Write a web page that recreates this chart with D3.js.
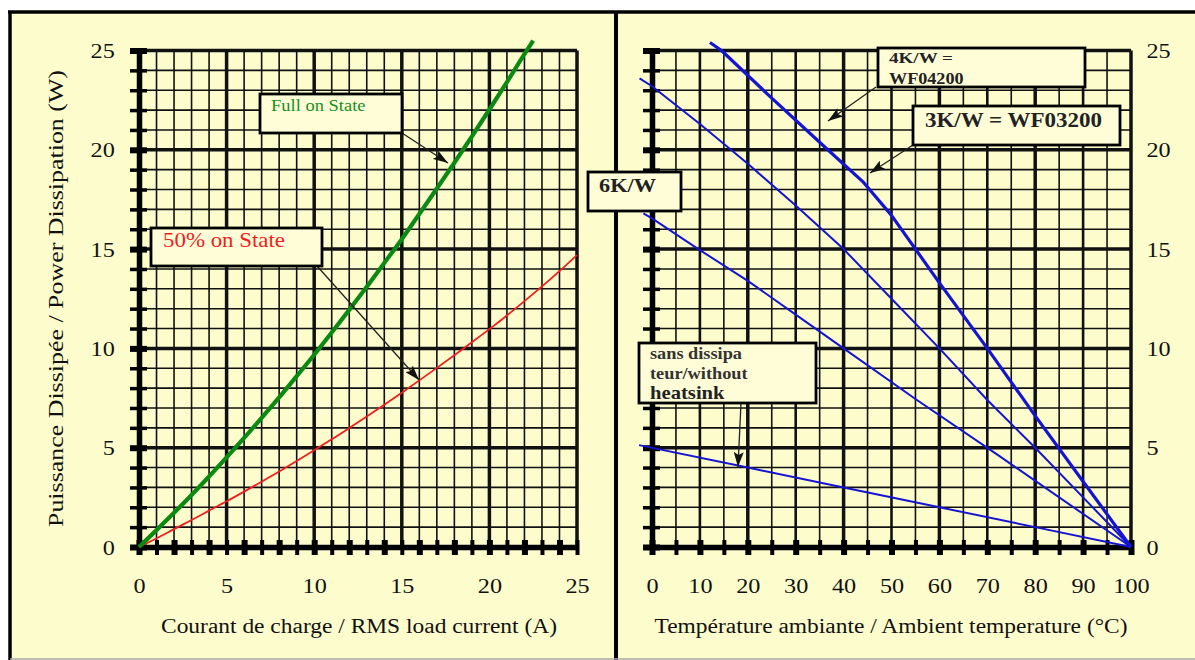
<!DOCTYPE html>
<html>
<head>
<meta charset="utf-8">
<script src="https://cdn.jsdelivr.net/npm/d3@7"></script>
<style>
body { margin: 0; background: #fff; }
svg { display: block; }
</style>
</head>
<body>
<script>
// ---- left chart : power vs RMS current ----
var fullOnI = [0, 1, 2, 3, 4, 5, 6, 7, 8, 9, 10, 11, 12, 13, 14, 15, 16, 17, 18, 19, 20, 21, 22, 22.5];
var fullOnW = [0, 0.85, 1.72, 2.62, 3.55, 4.51, 5.49, 6.5, 7.53, 8.6, 9.68, 10.8, 11.94, 13.1, 14.3, 15.5, 16.77, 18.05, 19.35, 20.67, 22.03, 23.41, 24.82, 25.5];
var halfOnI = [0, 1, 2, 3, 4, 5, 6, 7, 8, 9, 10, 11, 12, 13, 14, 15, 16, 17, 18, 19, 20, 21, 22, 23, 24, 25];
var halfOnW = [0, 0.44, 0.9, 1.36, 1.83, 2.3, 2.79, 3.29, 3.8, 4.33, 4.87, 5.42, 5.99, 6.57, 7.16, 7.77, 8.39, 9.02, 9.66, 10.31, 10.97, 11.66, 12.38, 13.12, 13.89, 14.7];

// ---- right chart : power vs ambient temperature ----
var t3 = [12.1, 14.5, 25, 36.7, 44, 50, 60, 70, 80, 90, 100];
var w3 = [25.4, 25, 22.6, 20, 18.4, 16.7, 13.3, 10.0, 6.6, 3.3, 0];
var t4 = [-2.6, 0, 10, 20, 30, 40, 50, 60, 70, 80, 90, 100];
var w4 = [23.6, 23.2, 21.3, 19.3, 17.2, 15.0, 12.5, 10.0, 7.4, 5.0, 2.5, 0];
var t6 = [-1.8, 0, 10, 20, 30, 40, 55, 72.7, 100];
var w6 = [16.8, 16.55, 14.95, 13.4, 11.7, 10.0, 7.45, 4.55, 0];
var tNone = [-2.7, 20, 40, 60, 80, 100];
var wNone = [5.13, 4.0, 3.0, 2.0, 1.0, 0];

// ticks
var powerTicks = [0, 5, 10, 15, 20, 25];
var currentTicks = [0, 5, 10, 15, 20, 25];
var tempTicks = [0, 10, 20, 30, 40, 50, 60, 70, 80, 90, 100];

var w = 1195, h = 660;
var bg = "#fdfccd";
var serif = "'Liberation Serif', 'Times New Roman', serif";

var svg = d3.select("body").append("svg")
    .attr("width", w)
    .attr("height", h);

// frame
svg.append("rect").attr("x", 10).attr("y", 12).attr("width", w - 10).attr("height", h - 12).attr("fill", bg);
svg.append("line").attr("x1", 8).attr("x2", w).attr("y1", 12).attr("y2", 12).attr("stroke", "#000").attr("stroke-width", 3.5);
svg.append("line").attr("x1", 10).attr("x2", 10).attr("y1", 11).attr("y2", h).attr("stroke", "#000").attr("stroke-width", 3.5);
svg.append("line").attr("x1", 616).attr("x2", 616).attr("y1", 11).attr("y2", h).attr("stroke", "#000").attr("stroke-width", 4);
svg.append("line").attr("x1", 10).attr("x2", w).attr("y1", 659).attr("y2", 659).attr("stroke", "#aaa").attr("stroke-width", 1.5);

var yScale = d3.scaleLinear().domain([0, 25]).range([547, 50.5]);
var xLeft = d3.scaleLinear().domain([0, 25]).range([139, 577]);
var xRight = d3.scaleLinear().domain([0, 100]).range([652, 1131]);

function grid(xScale, xStep, xMid, xMajor) {
    var g = svg.append("g");
    var xd = xScale.domain();
    d3.range(xd[0], xd[1] + 0.001, xStep).forEach(function (v) {
        var sw = v % xMajor === 0 ? 3.5 : (v % xMid === 0 ? 2.6 : 1.6);
        g.append("line")
            .attr("x1", xScale(v)).attr("x2", xScale(v))
            .attr("y1", yScale(0)).attr("y2", yScale(25))
            .attr("stroke", "#111").attr("stroke-width", sw);
    });
    d3.range(0, 26).forEach(function (v) {
        g.append("line")
            .attr("x1", xScale(xd[0])).attr("x2", xScale(xd[1]))
            .attr("y1", yScale(v)).attr("y2", yScale(v))
            .attr("stroke", "#111").attr("stroke-width", v % 5 === 0 ? 3.5 : 1.6);
    });
}

grid(xLeft, 1, 5, 5);
grid(xRight, 5, 10, 20);

// thick axes, ticks cross the line
function leftAxis(x0) {
    var g = svg.append("g").attr("transform", "translate(" + x0 + ",0)")
        .call(d3.axisLeft(yScale).tickValues(d3.range(0, 26)).tickSizeInner(9).tickSizeOuter(0).tickFormat(""));
    g.select(".domain").attr("stroke-width", 5.5);
    g.selectAll(".tick line").attr("x1", 8)
        .attr("stroke-width", function (d) { return d % 5 === 0 ? 6 : 3.5; });
    return g;
}

function bottomAxis(xScale, vals) {
    var g = svg.append("g").attr("transform", "translate(0," + yScale(0) + ")")
        .call(d3.axisBottom(xScale).tickValues(vals).tickSizeInner(8).tickSizeOuter(0).tickFormat(""));
    g.select(".domain").attr("stroke-width", 5.5);
    g.selectAll(".tick line").attr("y1", -7)
        .attr("stroke-width", function (d, i) { return i % 2 === 0 ? 6 : 4; });
    return g;
}

leftAxis(139);
bottomAxis(xLeft, d3.range(0, 26));
leftAxis(652);
bottomAxis(xRight, d3.range(0, 101, 5));

// tick labels
function styleLabels(g) {
    g.select(".domain").remove();
    g.selectAll("text")
        .attr("font-size", 22)
        .attr("fill", "#111")
        .style("font-family", serif)
        .attr("transform", "scale(1.1,1)");
}

styleLabels(svg.append("g").attr("transform", "translate(139,0)")
    .call(d3.axisLeft(yScale).tickValues(powerTicks).tickSize(0).tickPadding(22)));
styleLabels(svg.append("g").attr("transform", "translate(1131,0)")
    .call(d3.axisRight(yScale).tickValues(powerTicks).tickSize(0).tickPadding(14)));
styleLabels(svg.append("g").attr("transform", "translate(0," + yScale(0) + ")")
    .call(d3.axisBottom(xLeft).tickValues(currentTicks).tickSize(0).tickPadding(30)));
styleLabels(svg.append("g").attr("transform", "translate(0," + yScale(0) + ")")
    .call(d3.axisBottom(xRight).tickValues(tempTicks).tickSize(0).tickPadding(30)));

// curves
var lineL = d3.line().x(function (d) { return xLeft(d[0]); }).y(function (d) { return yScale(d[1]); }).curve(d3.curveMonotoneX);
var lineR = d3.line().x(function (d) { return xRight(d[0]); }).y(function (d) { return yScale(d[1]); });

svg.append("path").attr("d", lineL(d3.zip(halfOnI, halfOnW)))
    .attr("fill", "none").attr("stroke", "#f01e1e").attr("stroke-width", 1.8);
svg.append("path").attr("d", lineL(d3.zip(fullOnI, fullOnW)))
    .attr("fill", "none").attr("stroke", "#0b8a12").attr("stroke-width", 4.2);

var blue = "#1414d2";
[[tNone, wNone, 2], [t6, w6, 2], [t4, w4, 2], [t3, w3, 3.2]].forEach(function (s) {
    svg.append("path").attr("d", lineR(d3.zip(s[0], s[1])))
        .attr("fill", "none").attr("stroke", blue).attr("stroke-width", s[2])
        .attr("stroke-linejoin", "round");
});

function label(x, y, str, size, len, opt) {
    opt = opt || {};
    var t = svg.append("text")
        .attr("x", x).attr("y", y)
        .attr("font-size", size)
        .attr("fill", opt.fill || "#111")
        .attr("font-weight", opt.bold ? "bold" : "normal")
        .attr("text-anchor", opt.anchor || "start")
        .style("font-family", serif)
        .text(str);
    if (len) t.attr("textLength", len).attr("lengthAdjust", "spacingAndGlyphs");
    if (opt.rotate) t.attr("transform", "rotate(-90," + x + "," + y + ")");
    return t;
}

// axis titles
label(359, 633, "Courant de charge / RMS load current (A)", 20.5, 396, {anchor: "middle"});
label(891, 633, "Température ambiante / Ambient temperature (°C)", 20.5, 473, {anchor: "middle"});
label(63, 298.5, "Puissance Dissipée / Power Dissipation (W)", 21, 457, {anchor: "middle", rotate: true});

// annotation arrows
svg.append("defs").append("marker")
    .attr("id", "arr")
    .attr("viewBox", "0 0 15 10")
    .attr("refX", 15).attr("refY", 5)
    .attr("markerUnits", "userSpaceOnUse")
    .attr("markerWidth", 15).attr("markerHeight", 10)
    .attr("orient", "auto")
    .append("path").attr("d", "M0,0 L15,5 L0,10 L3,5 z").attr("fill", "#111");

function arrow(x1, y1, x2, y2) {
    svg.append("line")
        .attr("x1", x1).attr("y1", y1).attr("x2", x2).attr("y2", y2)
        .attr("stroke", "#222").attr("stroke-width", 1.3)
        .attr("marker-end", "url(#arr)");
}

function box(x, y, bw, bh) {
    svg.append("rect")
        .attr("x", x).attr("y", y).attr("width", bw).attr("height", bh)
        .attr("fill", "#fffdd8").attr("stroke", "#000").attr("stroke-width", 2.8);
}

arrow(402, 133, 448, 163);
arrow(317, 266, 419, 380);
arrow(876, 87, 828, 121);
arrow(913, 145, 870, 173);
arrow(741, 403, 738, 467);

box(260, 94, 142, 39);
label(271, 111, "Full on State", 17, 94.5, {fill: "#18901e"});

box(151, 228, 171, 38);
label(163, 247, "50% on State", 21, 122, {fill: "#f01e1e"});

box(878, 48, 207, 39);
label(889, 63, "4K/W =", 15, 64, {bold: true, fill: "#222"});
label(889, 84, "WF04200", 16, 74.6, {bold: true, fill: "#222"});

box(913, 106, 207, 39);
label(925, 127, "3K/W = WF03200", 20, 177, {bold: true, fill: "#222"});

box(588, 172, 93, 39);
label(599, 192, "6K/W", 19, 57, {bold: true, fill: "#222"});

box(639, 343, 177, 60);
label(650, 359, "sans dissipa", 16.5, 92, {bold: true, fill: "#333"});
label(650, 379, "teur/without", 16.5, 97.6, {bold: true, fill: "#333"});
label(650, 399, "heatsink", 19, 74.6, {bold: true, fill: "#222"});
</script>
</body>
</html>
